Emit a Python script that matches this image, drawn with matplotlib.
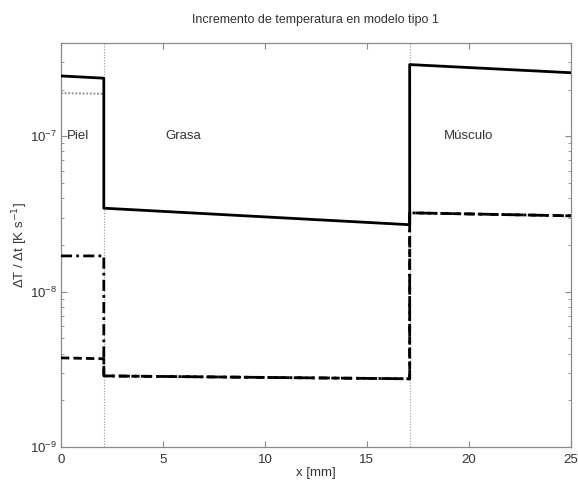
import numpy as np
import matplotlib
matplotlib.use('Agg')
import matplotlib.pyplot as plt
from matplotlib.ticker import FixedLocator, NullFormatter

plt.rcParams['font.family'] = ['Liberation Sans', 'DejaVu Sans']

# tissue boundaries [mm]
limites = [2.1, 17.1]
x_piel = [0.0, 2.1]
x_grasa = [2.1, 17.1]
x_musculo = [17.1, 25.0]

# dT/dt [K/s] per tissue (start, end)
solida_piel = [2.45e-7, 2.37e-7]
solida_grasa = [3.45e-8, 2.70e-8]
solida_musculo = [2.90e-7, 2.57e-7]

punteada_piel = [1.90e-7, 1.88e-7]

rayapunto_piel = [1.70e-8, 1.70e-8]
rayapunto_grasa = [2.87e-9, 2.75e-9]
rayapunto_musculo = [3.22e-8, 3.08e-8]

rayas_piel = [3.75e-9, 3.70e-9]
rayas_grasa = [2.87e-9, 2.75e-9]
rayas_musculo = [3.22e-8, 3.08e-8]

etiquetas = ['Piel', 'Grasa', 'M\u00fasculo']
x_etiquetas = [0.3, 5.1, 18.8]

xticks = [0, 5, 10, 15, 20, 25]
yticks = [1e-9, 1e-8, 1e-7]

gris = '#8a8a8a'
texto = '#333333'


def tramo(xp, yp, xg, yg, xm, ym):
    return xp + xg + xm, yp + yg + ym


fig = plt.figure(figsize=(5.78, 4.84), dpi=100)
ax = fig.add_axes([0.1055, 0.0764, 0.882, 0.835])

for xl in limites:
    ax.axvline(xl, color='#999999', lw=0.8, ls=(0, (1, 1.5)), zorder=1)

ax.plot(x_piel, punteada_piel, color='#888888', lw=1.3, ls=(0, (1, 1)), zorder=2)

x, y = tramo(x_piel, rayas_piel, x_grasa, rayas_grasa, x_musculo, rayas_musculo)
ax.plot(x, y, color='k', lw=2.0, ls=(0, (3, 1.5)), zorder=3)

x, y = tramo(x_piel, rayapunto_piel, x_grasa, rayapunto_grasa, x_musculo, rayapunto_musculo)
ax.plot(x, y, color='k', lw=2.0, ls=(0, (4, 1.5, 1, 1.5)), zorder=3)

x, y = tramo(x_piel, solida_piel, x_grasa, solida_grasa, x_musculo, solida_musculo)
ax.plot(x, y, color='k', lw=2.0, zorder=4)

for et, xe in zip(etiquetas, x_etiquetas):
    ax.text(xe, 1e-7, et, fontsize=9.5, color=texto, va='center', ha='left')

ax.set_yscale('log')
ax.set_xlim(0, 25)
ax.set_ylim(1e-9, 4e-7)
ax.set_xticks(xticks)
ax.set_yticks(yticks)
menores = [m * d for d in [1e-9, 1e-8, 1e-7] for m in range(2, 10) if m * d < 4e-7]
ax.yaxis.set_minor_locator(FixedLocator(menores))
ax.yaxis.set_minor_formatter(NullFormatter())

for s in ax.spines.values():
    s.set_color(gris)
    s.set_linewidth(0.9)
ax.tick_params(which='both', direction='in', top=True, right=True, color=gris,
               labelcolor=texto, labelsize=9.5)
ax.tick_params(axis='x', pad=5)
ax.tick_params(axis='y', pad=3)
ax.tick_params(which='major', length=4)
ax.tick_params(which='minor', length=2.5)

ax.set_xlabel('x [mm]', fontsize=9.5, color=texto, labelpad=1)
ax.set_ylabel('\u0394T / \u0394t [K s$^{-1}$]', fontsize=9.5, color=texto, labelpad=0)
ax.set_title('Incremento de temperatura en modelo tipo 1', fontsize=9, color=texto, pad=14)

fig.savefig('out.png', dpi=100)
